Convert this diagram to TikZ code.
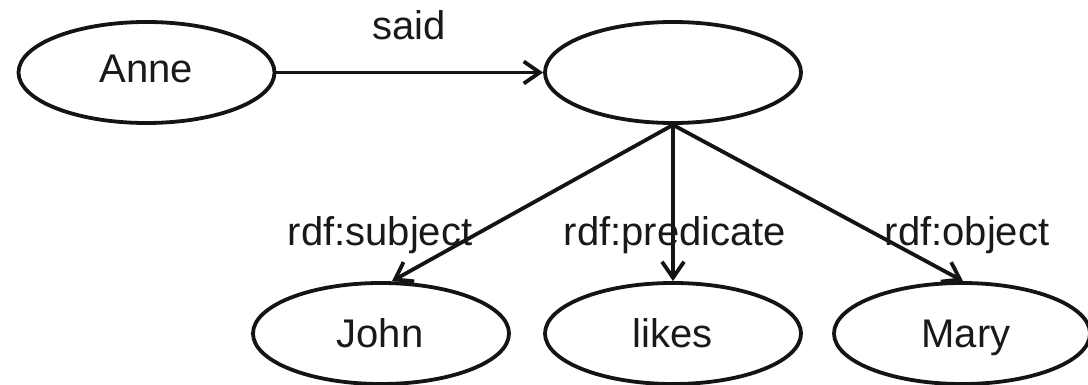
\documentclass[tikz,border=0pt]{standalone}
\usepackage{fontspec}
\setmainfont{Liberation Sans}
\usetikzlibrary{shapes.geometric,arrows.meta}
\begin{document}
\begin{tikzpicture}[x=1pt,y=-1pt,
  res/.style={ellipse,draw=black!92,line width=3.8pt,inner sep=0pt,minimum width=256pt,minimum height=101pt},
  txt/.style={font=\fontsize{40}{42}\selectfont,text=black!90,anchor=base,inner sep=0pt},
  conn/.style={draw=black!92,line width=3.8pt,-{Straight Barb[length=16pt,width=22pt,line width=3.8pt]}}]
\useasboundingbox (0,0) rectangle (1088,385);
\node[res] (anne) at (146.5,72.5) {};
\node[res] (stmt) at (673,72.5) {};
\node[res] (john) at (381,333.5) {};
\node[res] (likes) at (673,333.5) {};
\node[res] (mary) at (962,333.5) {};
\node[txt] (tanne) at (146.5,83) {Anne};
\node[txt] (tjohn) at (380,347) {John};
\node[txt] (tlikes) at (673,347) {likes};
\node[txt] (tmary) at (966,347) {Mary};
\draw[conn] (anne.east) -- (stmt.west);
\draw[conn] (stmt.south) -- ([xshift=11pt]john.north);
\draw[conn] (stmt.south) -- (likes.north);
\draw[conn] (stmt.south) -- ([xshift=1pt]mary.north);
\node[txt] (said) at (409,40) {said};
\node[txt] (lsub) at (380,245) {rdf:subject};
\node[txt] (lpred) at (675,245) {rdf:predicate};
\node[txt] (lobj) at (967,245) {rdf:object};
\end{tikzpicture}
\end{document}
